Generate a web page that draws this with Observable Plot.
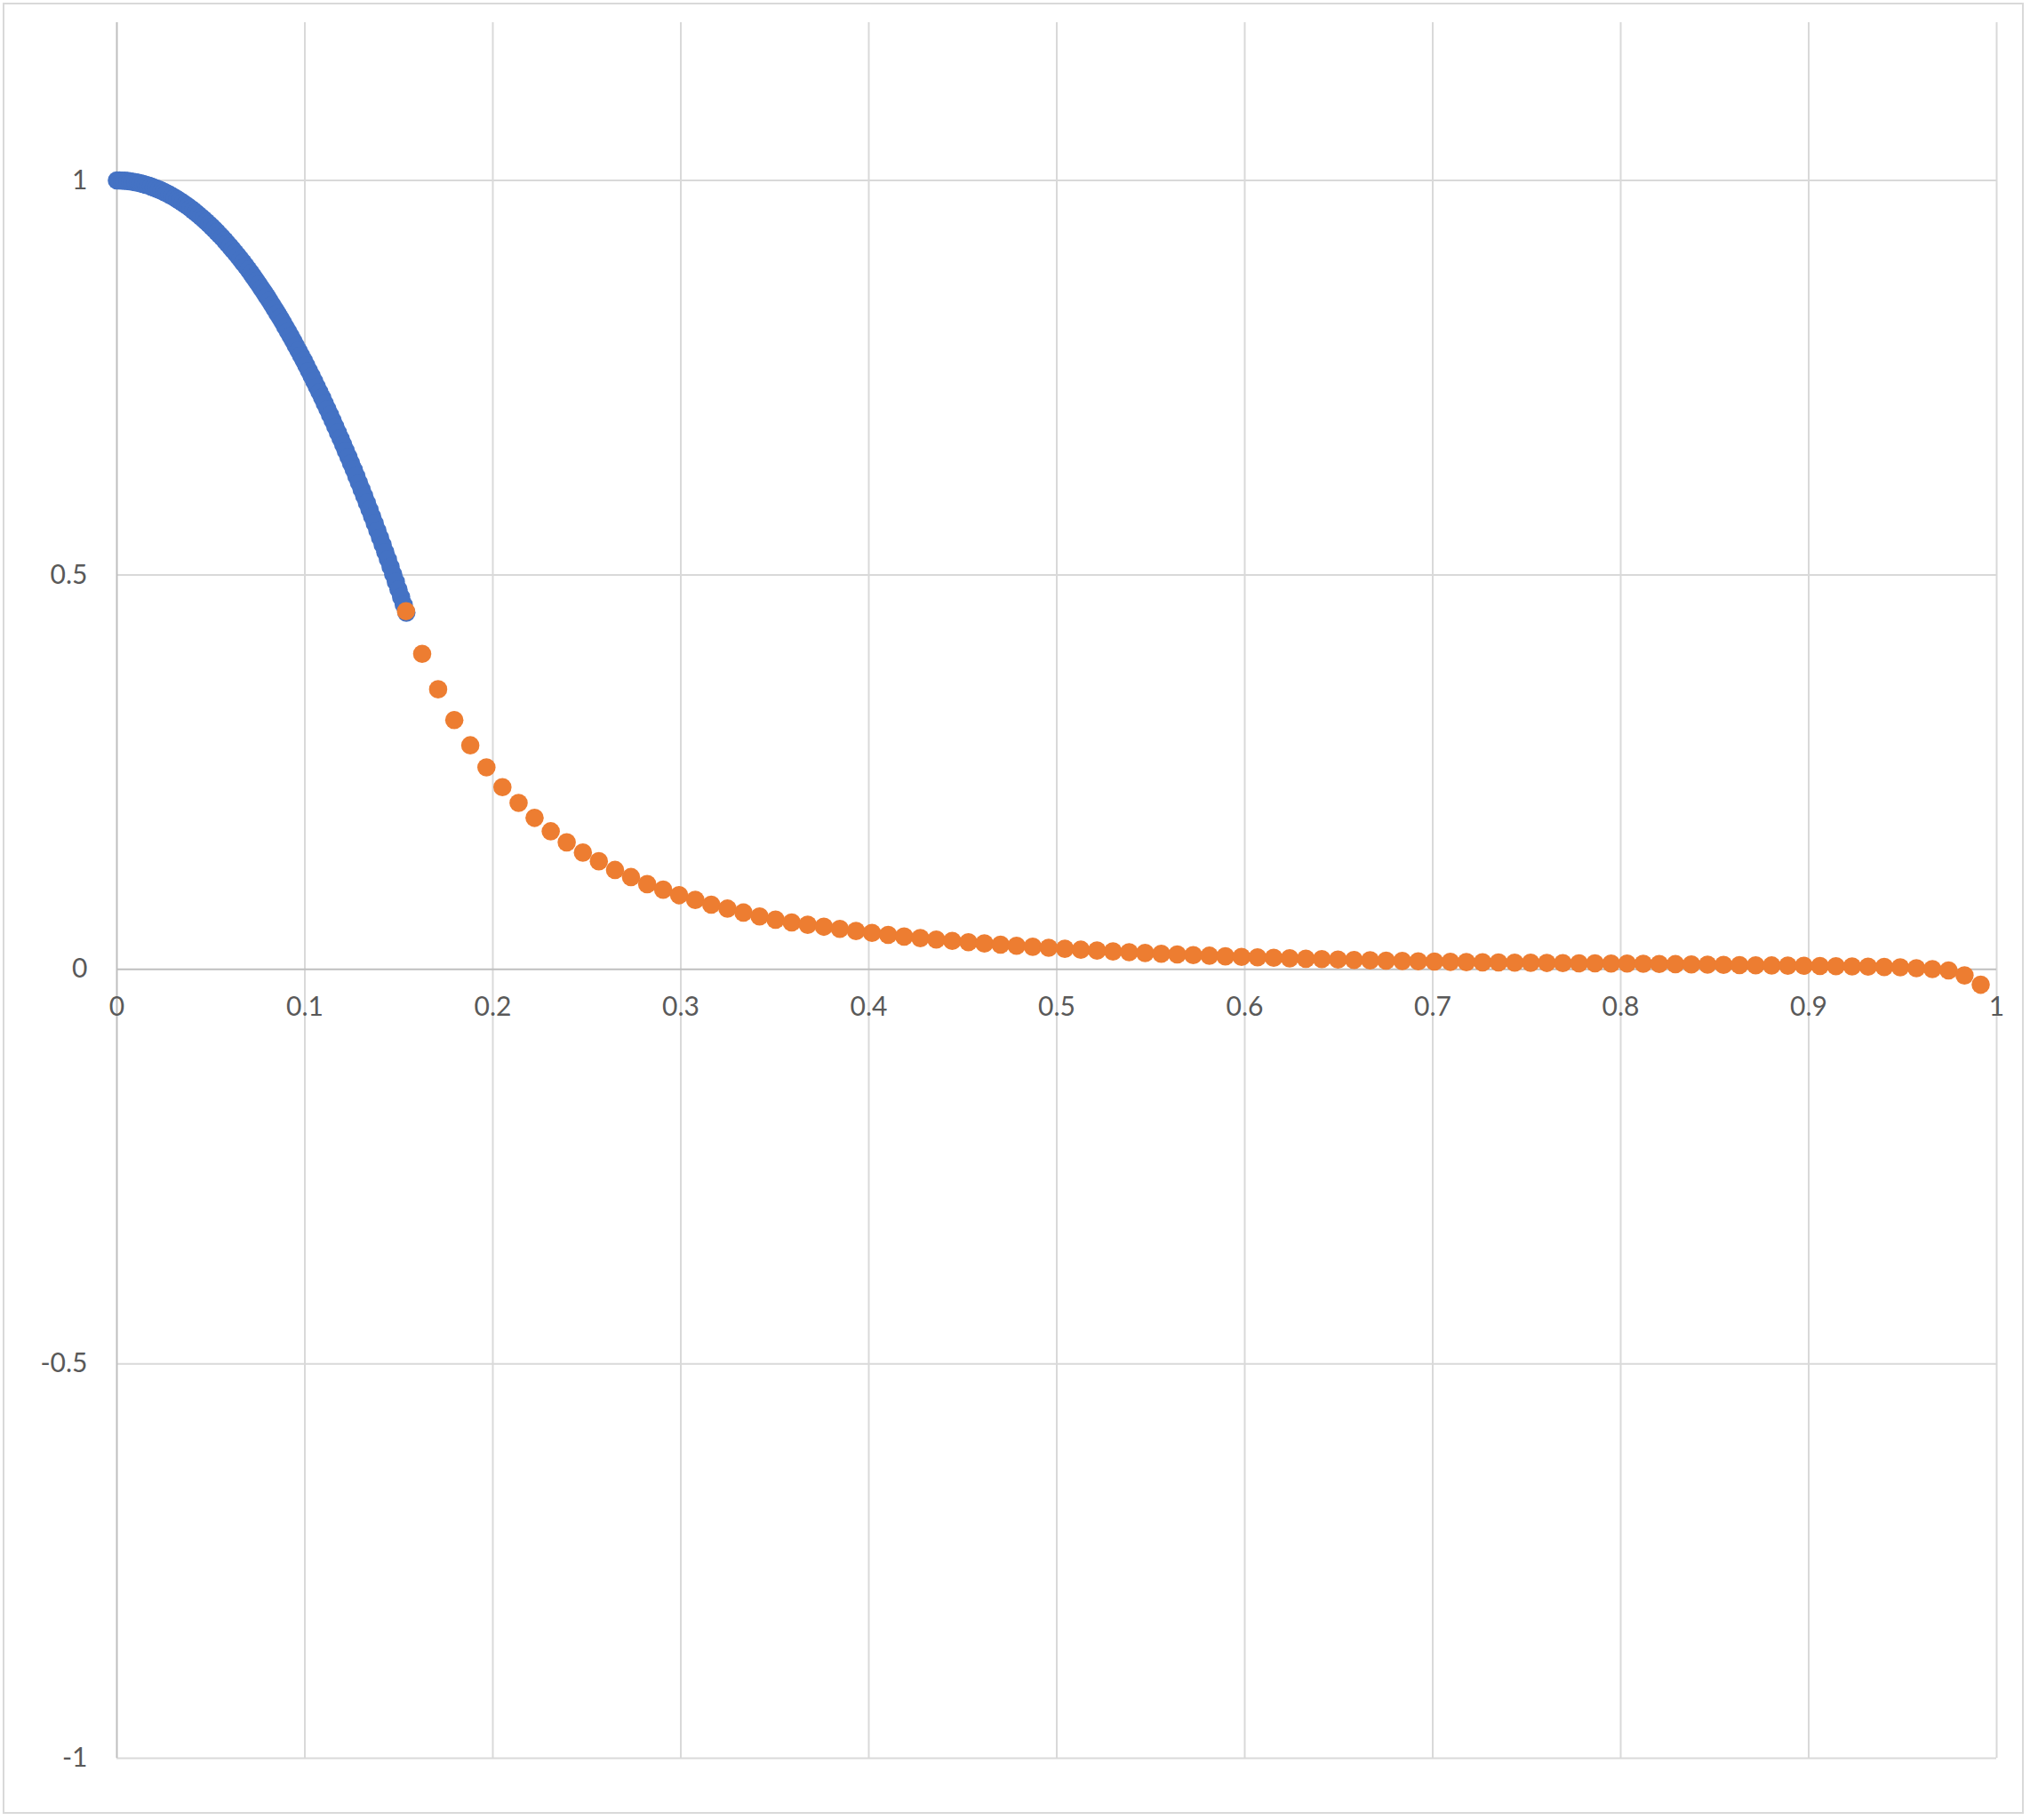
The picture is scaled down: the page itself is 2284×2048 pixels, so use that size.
<!DOCTYPE html>
<html>
<head>
<meta charset="utf-8">
<script src="https://cdn.jsdelivr.net/npm/d3@7"></script>
<script src="https://cdn.jsdelivr.net/npm/@observablehq/plot@0.6"></script>
<style>
  html, body { margin: 0; padding: 0; background: #ffffff; }
  #wrap { position: relative; width: 2284px; height: 2048px; }
  #border { position: absolute; left: 3px; top: 3px; width: 2270px; height: 2034px; border: 2px solid #d9d9d9; pointer-events: none; }
</style>
</head>
<body>
<div id="wrap"><div id="chart"></div><div id="border"></div></div>
<script>
// Tick values
const xTicks = [0, 0.1, 0.2, 0.3, 0.4, 0.5, 0.6, 0.7, 0.8, 0.9, 1];
const yTicks = [-1, -0.5, 0, 0.5, 1];

// Series 1 (blue): dense points
const blueX = [
0.0000,0.0014,0.0028,0.0042,0.0056,0.0070,0.0084,0.0098,0.0112,0.0126,
0.0140,0.0154,0.0168,0.0182,0.0196,0.0210,0.0224,0.0238,0.0252,0.0266,
0.0280,0.0294,0.0308,0.0322,0.0336,0.0350,0.0364,0.0378,0.0392,0.0406,
0.0420,0.0434,0.0448,0.0462,0.0476,0.0490,0.0504,0.0518,0.0532,0.0546,
0.0560,0.0574,0.0588,0.0602,0.0616,0.0630,0.0644,0.0658,0.0672,0.0686,
0.0700,0.0714,0.0728,0.0742,0.0756,0.0770,0.0784,0.0798,0.0812,0.0826,
0.0840,0.0854,0.0868,0.0882,0.0896,0.0910,0.0924,0.0938,0.0952,0.0966,
0.0980,0.0994,0.1008,0.1022,0.1036,0.1050,0.1064,0.1078,0.1092,0.1106,
0.1120,0.1134,0.1148,0.1162,0.1176,0.1190,0.1204,0.1218,0.1232,0.1246,
0.1260,0.1274,0.1288,0.1302,0.1316,0.1330,0.1344,0.1358,0.1372,0.1386,
0.1400,0.1414,0.1428,0.1442,0.1456,0.1470,0.1484,0.1498,0.1512,0.1526,
0.1540];
const blueY = [
1.0000,1.0000,0.9998,0.9996,0.9993,0.9989,0.9984,0.9978,0.9971,0.9963,
0.9955,0.9945,0.9935,0.9923,0.9911,0.9898,0.9884,0.9869,0.9853,0.9837,
0.9819,0.9800,0.9781,0.9760,0.9739,0.9717,0.9694,0.9670,0.9645,0.9619,
0.9593,0.9565,0.9536,0.9507,0.9477,0.9445,0.9413,0.9380,0.9346,0.9311,
0.9276,0.9239,0.9201,0.9163,0.9123,0.9083,0.9042,0.9000,0.8957,0.8913,
0.8868,0.8822,0.8776,0.8728,0.8680,0.8630,0.8580,0.8529,0.8477,0.8424,
0.8370,0.8315,0.8260,0.8203,0.8145,0.8087,0.8028,0.7968,0.7906,0.7844,
0.7781,0.7718,0.7653,0.7587,0.7521,0.7453,0.7385,0.7316,0.7245,0.7174,
0.7102,0.7029,0.6956,0.6881,0.6805,0.6729,0.6651,0.6573,0.6494,0.6414,
0.6333,0.6251,0.6168,0.6084,0.6000,0.5914,0.5827,0.5740,0.5652,0.5562,
0.5472,0.5381,0.5289,0.5197,0.5103,0.5008,0.4913,0.4816,0.4719,0.4621,
0.4522];

// Series 2 (orange)
const orangeX = [
0.1538,0.1624,0.1709,0.1795,0.1880,0.1966,0.2051,0.2137,0.2222,0.2308,
0.2393,0.2479,0.2564,0.2650,0.2735,0.2821,0.2906,0.2991,0.3077,0.3162,
0.3248,0.3333,0.3419,0.3504,0.3590,0.3675,0.3761,0.3846,0.3932,0.4017,
0.4103,0.4188,0.4274,0.4359,0.4444,0.4530,0.4615,0.4701,0.4786,0.4872,
0.4957,0.5043,0.5128,0.5214,0.5299,0.5385,0.5470,0.5556,0.5641,0.5726,
0.5812,0.5897,0.5983,0.6068,0.6154,0.6239,0.6325,0.6410,0.6496,0.6581,
0.6667,0.6752,0.6838,0.6923,0.7009,0.7094,0.7179,0.7265,0.7350,0.7436,
0.7521,0.7607,0.7692,0.7778,0.7863,0.7949,0.8034,0.8120,0.8205,0.8291,
0.8376,0.8462,0.8547,0.8632,0.8718,0.8803,0.8889,0.8974,0.9060,0.9145,
0.9231,0.9316,0.9402,0.9487,0.9573,0.9658,0.9744,0.9829,0.9915];
const orangeY = [
0.454,0.400,0.355,0.316,0.284,0.256,0.231,0.211,0.192,0.175,
0.161,0.148,0.137,0.126,0.117,0.108,0.101,0.094,0.088,0.082,
0.077,0.072,0.067,0.063,0.0595,0.0565,0.0540,0.0513,0.0486,0.0462,
0.0437,0.0416,0.0396,0.0377,0.0360,0.0343,0.0328,0.0313,0.0299,0.0286,
0.0273,0.0261,0.0249,0.0238,0.0227,0.0217,0.0207,0.0198,0.0189,0.0181,
0.0173,0.0165,0.0158,0.0152,0.0146,0.0140,0.0134,0.0129,0.0124,0.0119,
0.0114,0.0110,0.0106,0.0102,0.0098,0.0095,0.0092,0.0089,0.0087,0.0085,
0.0083,0.0081,0.0079,0.0077,0.0076,0.0074,0.0073,0.0070,0.0068,0.0066,
0.0063,0.0060,0.0057,0.0054,0.0051,0.0049,0.0047,0.0045,0.0042,0.0040,
0.0037,0.0034,0.0030,0.0025,0.0015,0.0003,-0.0013,-0.0077,-0.0195];

const blue = blueX.map((x, i) => ({x, y: blueY[i]}));
const orange = orangeX.map((x, i) => ({x, y: orangeY[i]}));

const labelStyle = {fontSize: 30, fill: "#595959"};

const chart = Plot.plot({
  width: 2284,
  height: 2048,
  marginLeft: 131,
  marginRight: 38,
  marginTop: 25,
  marginBottom: 70,
  style: {fontFamily: "Lato, 'Liberation Sans', sans-serif", background: "#ffffff"},
  x: {domain: [0, 1], axis: null},
  y: {domain: [-1, 1.2], axis: null},
  marks: [
    Plot.gridY(yTicks.filter(d => d !== 0), {stroke: "#d9d9d9", strokeOpacity: 1, strokeWidth: 2}),
    Plot.gridX(xTicks.filter(d => d !== 0), {stroke: "#d9d9d9", strokeOpacity: 1, strokeWidth: 2}),
    Plot.ruleY([0], {stroke: "#bfbfbf", strokeWidth: 2}),
    Plot.ruleX([0], {stroke: "#bfbfbf", strokeWidth: 2}),
    Plot.axisY(yTicks, {tickSize: 0, tickPadding: 33, label: null, tickFormat: d => String(d), ...labelStyle}),
    Plot.text(xTicks, {x: d => d, y: 0, dy: 43, text: d => String(d), textAnchor: "middle", ...labelStyle}),
    Plot.dot(blue, {x: "x", y: "y", r: 10.3, fill: "#4472C4", stroke: "none"}),
    Plot.dot(orange, {x: "x", y: "y", r: 10.3, fill: "#ED7D31", stroke: "none"})
  ]
});
document.getElementById("chart").appendChild(chart);
</script>
</body>
</html>
